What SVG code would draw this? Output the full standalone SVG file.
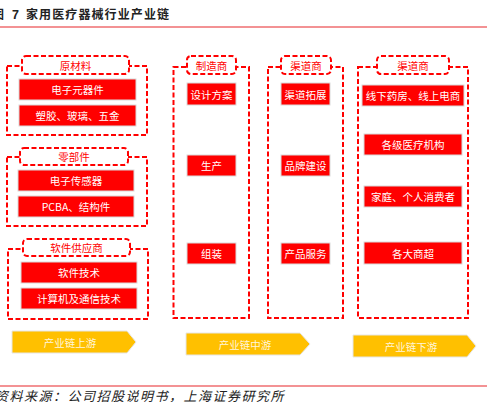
<svg xmlns="http://www.w3.org/2000/svg" width="487" height="402" viewBox="0 0 487 402">
<style>
.dash{fill:none;stroke:#FF0000;stroke-width:2;stroke-dasharray:5 2.5}
.tab{fill:#fff;stroke:#FF0000;stroke-width:2;stroke-dasharray:5 2.5}
.box{fill:#FF0000;stroke:#DADADA;stroke-width:1}
.arr{fill:#FFC000;stroke:#E6E6E6;stroke-width:1}
.bt{font-family:"Noto Sans CJK SC",sans-serif;font-size:10.5px;fill:#fff;text-anchor:middle;dominant-baseline:central}
.tt{font-family:"Noto Sans CJK SC",sans-serif;font-size:10.5px;fill:#FF0000;text-anchor:middle;dominant-baseline:central}
.at{font-family:"Noto Sans CJK SC",sans-serif;font-size:10.5px;fill:#FFF6DC;text-anchor:middle;dominant-baseline:central}
</style>
<rect width="487" height="402" fill="#fff"/>
<g id="title">
<text x="-8" y="19" font-family="Noto Sans CJK SC,sans-serif" font-size="12" font-weight="bold" fill="#222">图</text>
<text x="12" y="19" font-family="Liberation Sans,sans-serif" font-size="12.5" font-weight="bold" fill="#222">7</text>
<text x="26" y="19" font-family="Noto Sans CJK SC,sans-serif" font-size="12" font-weight="bold" letter-spacing="1.1" fill="#222">家用医疗器械行业产业链</text>
<line x1="0" y1="27" x2="487" y2="27" stroke="#E8272B" stroke-width="1.2"/>
</g>
<g id="upstream-raw">
<rect class="dash" x="7" y="66" width="140" height="69"/>
<rect class="tab" x="22" y="56" width="107" height="18" rx="4"/>
<text class="tt" x="75.5" y="65">原材料</text>
<rect class="box" x="19" y="79" width="117" height="21"/>
<text class="bt" x="77.5" y="89.5">电子元器件</text>
<rect class="box" x="19" y="105" width="117" height="21"/>
<text class="bt" x="77.5" y="115.5">塑胶、玻璃、五金</text>
</g>
<g id="upstream-parts">
<rect class="dash" x="7" y="157" width="140" height="69"/>
<rect class="tab" x="20" y="148" width="108" height="17" rx="4"/>
<text class="tt" x="74" y="156.5">零部件</text>
<rect class="box" x="18" y="170" width="116" height="21"/>
<text class="bt" x="76" y="180.5">电子传感器</text>
<rect class="box" x="18" y="196" width="116" height="21"/>
<text class="bt" x="76" y="206.5">PCBA、结构件</text>
</g>
<g id="upstream-software">
<rect class="dash" x="8" y="249" width="140" height="70"/>
<rect class="tab" x="23" y="239" width="107" height="17" rx="4"/>
<text class="tt" x="76.5" y="247.5">软件供应商</text>
<rect class="box" x="21" y="262" width="116" height="21"/>
<text class="bt" x="79" y="272.5">软件技术</text>
<rect class="box" x="21" y="288" width="116" height="21"/>
<text class="bt" x="79" y="298.5">计算机及通信技术</text>
</g>
<g id="manufacturer">
<rect class="dash" x="173.5" y="67" width="75.5" height="251"/>
<rect class="tab" x="187" y="56" width="49" height="18" rx="4"/>
<text class="tt" x="211.5" y="65">制造商</text>
<rect class="box" x="187" y="83" width="49" height="22"/>
<text class="bt" x="211.5" y="94">设计方案</text>
<rect class="box" x="187" y="155" width="49" height="21"/>
<text class="bt" x="211.5" y="165.5">生产</text>
<rect class="box" x="187" y="243" width="49" height="21"/>
<text class="bt" x="211.5" y="253.5">组装</text>
</g>
<g id="channel1">
<rect class="dash" x="268" y="67" width="75" height="251"/>
<rect class="tab" x="281" y="56" width="50" height="18" rx="4"/>
<text class="tt" x="306" y="65">渠道商</text>
<rect class="box" x="281" y="83" width="49" height="22"/>
<text class="bt" x="305.5" y="94">渠道拓展</text>
<rect class="box" x="281" y="155" width="49" height="21"/>
<text class="bt" x="305.5" y="165.5">品牌建设</text>
<rect class="box" x="281" y="243" width="49" height="21"/>
<text class="bt" x="305.5" y="253.5">产品服务</text>
</g>
<g id="channel2">
<rect class="dash" x="358" y="67" width="110" height="251"/>
<rect class="tab" x="377" y="56" width="72" height="18" rx="4"/>
<text class="tt" x="413" y="65">渠道商</text>
<rect class="box" x="362" y="85" width="102" height="21"/>
<text class="bt" x="413" y="95.5">线下药房、线上电商</text>
<rect class="box" x="364" y="134" width="98" height="21"/>
<text class="bt" x="413" y="144.5">各级医疗机构</text>
<rect class="box" x="364" y="186" width="98" height="21"/>
<text class="bt" x="413" y="196.5">家庭、个人消费者</text>
<rect class="box" x="364" y="242" width="98" height="22"/>
<text class="bt" x="413" y="253">各大商超</text>
</g>
<g id="arrows">
<polygon class="arr" points="12,331 127,331 136,342 127,353 12,353"/>
<text class="at" x="70" y="342">产业链上游</text>
<polygon class="arr" points="186,333 300,333 310,344 300,355 186,355"/>
<text class="at" x="245" y="344">产业链中游</text>
<polygon class="arr" points="353,335 467,335 476,346 467,357 353,357"/>
<text class="at" x="411" y="346">产业链下游</text>
</g>
<g id="source">
<line x1="0" y1="386" x2="487" y2="386" stroke="#E8272B" stroke-width="1.2"/>
<text x="-5" y="401" font-family="Noto Sans CJK SC,sans-serif" font-size="13" font-style="italic" letter-spacing="1.5" fill="#222" transform="skewX(0)">资料来源：公司招股说明书，上海证券研究所</text>
</g>
</svg>
